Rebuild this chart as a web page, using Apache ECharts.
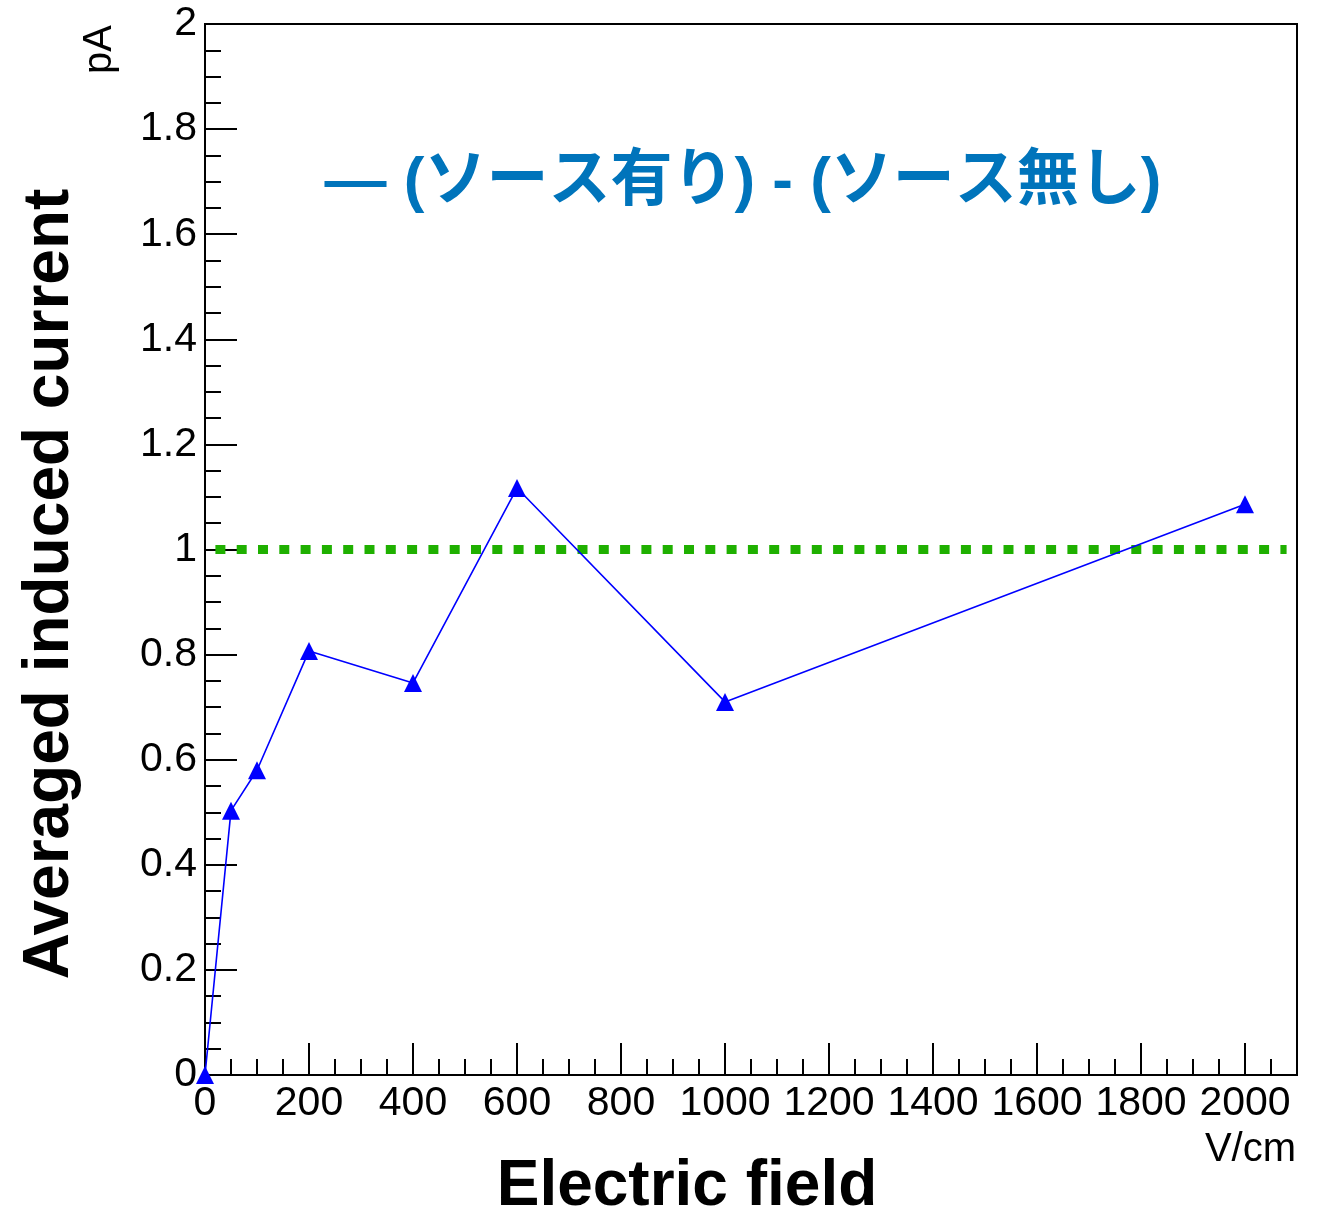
<!DOCTYPE html>
<html>
<head>
<meta charset="utf-8">
<script src="https://cdn.jsdelivr.net/npm/echarts@6/dist/echarts.min.js"></script>
<style>html,body{margin:0;padding:0;background:#fff}#c{width:1320px;height:1211px}</style>
</head>
<body>
<div id="c"></div>
<script>
// ---- data ----
const fieldValues = [0, 50, 100, 200, 400, 600, 1000, 2000];          // V/cm
const currentValues = [0.0, 0.503, 0.580, 0.807, 0.746, 1.117, 0.710, 1.086]; // pA
const refLineX = [20, 2080];
const refLineY = 1.0;
const titleText = '— (ソース有り) - (ソース無し)';
const xTitle = 'Electric field';
const yTitle = 'Averaged induced current';
const xUnit = 'V/cm';
const yUnit = 'pA';

const seriesData = fieldValues.map((x, i) => [x, currentValues[i]]);
const refData = refLineX.map(x => [x, refLineY]);

const latin = '"Liberation Sans", Arial, Helvetica, sans-serif';
const chart = echarts.init(document.getElementById('c'), null, {renderer: 'canvas'});
chart.setOption({
  animation: false,
  backgroundColor: '#fff',
  grid: {left: 205, top: 24, right: 23, bottom: 136, show: true, borderColor: '#000', borderWidth: 2, backgroundColor: 'transparent'},
  xAxis: [{
    type: 'value', min: 0, max: 2100, interval: 50, position: 'bottom',
    axisLine: {show: true, lineStyle: {color: '#000', width: 2}},
    axisTick: {show: true, inside: true, length: 16, lineStyle: {color: '#000', width: 2}},
    splitLine: {show: false},
    axisLabel: {
      show: true, interval: 0, hideOverlap: false, margin: 8,
      color: '#000', fontSize: 41, fontFamily: latin,
      formatter: v => (Math.round(v) % 200 === 0 && v <= 2000) ? String(Math.round(v)) : ''
    }
  }, {
    type: 'value', min: 0, max: 2100, interval: 200, position: 'bottom',
    axisLine: {show: false},
    axisTick: {show: true, inside: true, length: 32, lineStyle: {color: '#000', width: 2}},
    splitLine: {show: false},
    axisLabel: {show: false}
  }],
  yAxis: {
    type: 'value', min: 0, max: 2, interval: 0.2, position: 'left',
    axisLine: {show: true, lineStyle: {color: '#000', width: 2}},
    axisTick: {show: true, inside: true, length: 32, lineStyle: {color: '#000', width: 2}},
    minorTick: {show: true, splitNumber: 4, length: 16, lineStyle: {color: '#000', width: 2}},
    splitLine: {show: false},
    minorSplitLine: {show: false},
    axisLabel: {
      color: '#000', fontSize: 41, fontFamily: latin, margin: 8,
      padding: [10, 0, 0, 0],
      formatter: v => String(+v.toFixed(1))
    }
  },
  series: [{
    type: 'line', data: refData, xAxisIndex: 0,
    symbol: 'none', silent: true,
    lineStyle: {color: '#1fb000', width: 9, type: [10, 11.3], cap: 'butt'},
    z: 2
  }, {
    type: 'line', data: seriesData, xAxisIndex: 0,
    symbol: 'triangle', symbolSize: [18, 18], showAllSymbol: true,
    lineStyle: {color: '#0000ff', width: 1.6},
    itemStyle: {color: '#0000ff'},
    clip: false,
    z: 3
  }],
  graphic: [{
    type: 'text', x: 743, y: 183,
    style: {text: titleText, fill: '#0074bb', font: 'bold 62px "Liberation Sans", "Noto Sans CJK JP", sans-serif', textAlign: 'center', textVerticalAlign: 'middle'}
  }, {
    type: 'text', x: 687, y: 1187,
    style: {text: xTitle, fill: '#000', font: 'bold 64px ' + latin, textAlign: 'center', textVerticalAlign: 'middle'}
  }, {
    type: 'text', x: 50, y: 584, rotation: Math.PI / 2,
    style: {text: yTitle, fill: '#000', font: 'bold 64px ' + latin, textAlign: 'center', textVerticalAlign: 'middle'}
  }, {
    type: 'text', x: 1296, y: 1150,
    style: {text: xUnit, fill: '#000', font: '40px ' + latin, textAlign: 'right', textVerticalAlign: 'middle'}
  }, {
    type: 'text', x: 100, y: 25, rotation: Math.PI / 2,
    style: {text: yUnit, fill: '#000', font: '40px ' + latin, textAlign: 'right', textVerticalAlign: 'middle'}
  }]
});
</script>
</body>
</html>
